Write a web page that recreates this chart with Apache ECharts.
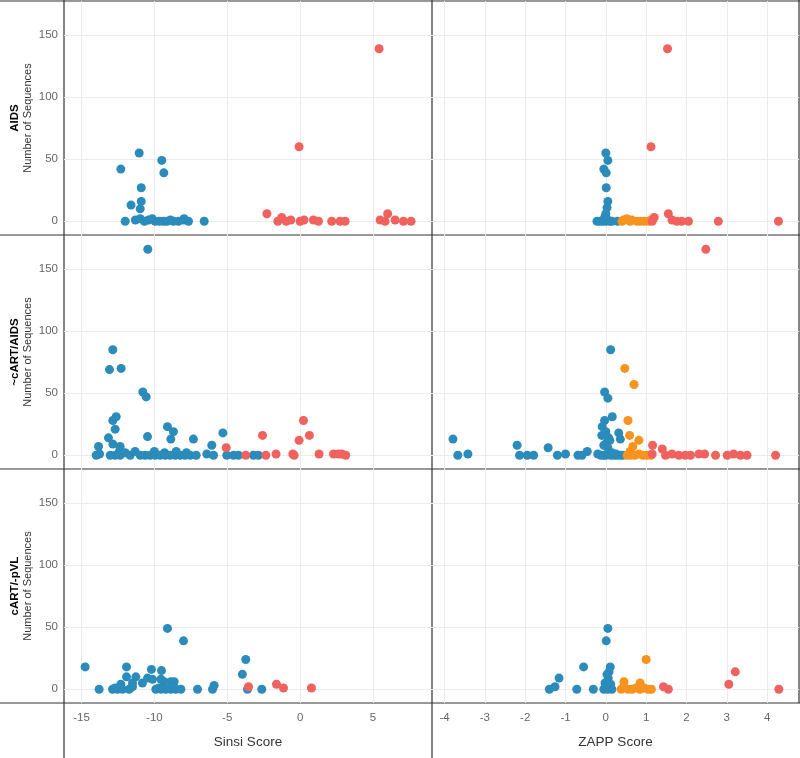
<!DOCTYPE html>
<html><head><meta charset="utf-8">
<script src="https://cdn.jsdelivr.net/npm/echarts@6/dist/echarts.min.js"></script>
<style>html,body{margin:0;padding:0;background:#fff}#c{width:800px;height:758px}</style>
</head><body><div id="c"></div>
<script>
// ---------- labels / ticks ----------
const rowLabels = ['AIDS', '~cART/AIDS', 'cART/-pVL'];
const colTitles = ['Sinsi Score', 'ZAPP Score'];
const yTicks = [0, 50, 100, 150];
const sinsiTicks = [-15, -10, -5, 0, 5];
const zappTicks = [-4, -3, -2, -1, 0, 1, 2, 3, 4];

// ---------- data: [score, number of sequences] ----------
// Row 1: AIDS
const aidsSinsiBlue = [[-12.3,42],[-11.04,55],[-9.49,49],[-9.35,39],[-10.9,27],[-10.9,16],[-11.6,13],[-10.97,10],
  [-12.0,0],[-11.3,1],[-10.97,2],[-10.68,0],[-10.4,1],[-9.95,0],[-10.15,2],[-9.65,0],[-9.37,0],[-9.14,0],[-8.9,1],
  [-8.69,0],[-8.35,0],[-8.0,1],[-7.66,0],[-7.96,2],[-6.58,0]];
const aidsSinsiRed = [[5.42,139],[-0.07,60],[-2.28,6],[-1.53,0],[-1.26,3],[-0.96,0],[-0.64,1],[0,0],[0.27,1],[0.91,1],
  [1.26,0],[2.17,0],[2.74,0],[3.09,0],[5.49,1],[5.83,0],[6.01,6],[6.52,1],[7.09,0],[7.61,0]];
const aidsZappBlue = [[0,55],[0.05,49],[-0.05,42],[0.01,39],[0.01,27],[0.05,16],[0.03,11],[0.0,6],[-0.03,3],
  [-0.22,0],[-0.15,0],[-0.08,0],[0,0],[0.05,1],[0.1,0],[0.15,0],[0.29,0]];
const aidsZappOrange = [[0.40,0],[0.44,1],[0.52,2],[0.6,0],[0.64,1],[0.77,0],[0.85,0],[0.95,0],[1.06,0],[1.12,1]];
const aidsZappRed = [[1.53,139],[1.12,60],[1.2,3],[1.15,0],[1.55,6],[1.64,1],[1.76,0],[1.88,0],[2.05,0],[2.79,0],[4.28,0]];

// Row 2: ~cART/AIDS
const noCartSinsiBlue = [[-10.45,166],[-12.85,85],[-13.08,69],[-12.28,70],[-10.79,51],[-10.56,47],[-12.62,31],[-12.85,28],
  [-12.69,21],[-13.15,14],[-12.85,9],[-13.83,7],[-13.99,0],[-13.76,1],[-10.47,15],[-9.10,23],[-8.69,19],[-8.87,13],
  [-7.32,13],[-5.3,18],[-6.06,8],[-12.35,7],[-12.4,3],
  [-13.03,0],[-12.69,0],[-12.35,0],[-12.0,2],[-11.66,0],[-11.32,3],[-10.97,0],[-10.63,0],[-10.29,0],[-10.0,3],[-9.95,0],
  [-9.6,0],[-9.3,2],[-9.26,0],[-8.92,0],[-8.57,0],[-8.5,3],[-8.23,0],[-7.89,0],[-7.8,2],[-7.54,0],[-7.13,0],[-6.4,1],
  [-5.94,0],[-5.03,0],[-4.57,0],[-4.23,0],[-3.2,0],[-2.86,0]];
const noCartSinsiRed = [[-5.07,6],[-3.73,0],[-2.58,16],[-2.35,0],[-1.65,1],[-0.5,1],[-0.41,0],[-0.07,12],[0.23,28],
  [0.64,16],[1.30,1],[2.29,1],[2.63,1],[2.86,1],[3.13,0]];
const noCartZappBlue = [[0.12,85],[-0.03,51],[0.05,46],[0.16,31],[-0.03,28],[-0.09,23],[0.0,19],[0.07,14],[0.32,18],
  [0.36,13],[-3.79,13],[-3.67,0],[-3.42,1],[-2.2,8],[-2.14,0],[-1.95,0],[-1.79,0],[-1.43,6],[-1.2,0],[-1.0,1],
  [-0.69,0],[-0.59,0],[-0.46,3],[-0.1,16],[0.02,10],[0.1,12],[-0.05,8],[0.05,6],[-0.12,0],[-0.05,0],[0.0,0],
  [0.05,1],[0.12,0],[0.2,0],[0.28,0],[0.36,0],[0.42,0],[-0.2,1],[0.15,2],[0.25,1]];
const noCartZappOrange = [[0.47,70],[0.70,57],[0.55,28],[0.59,16],[0.82,12],[0.67,7],[0.6,3],[0.53,0],[0.62,0],
  [0.72,0],[0.82,1],[0.92,0],[1.02,0],[1.12,0]];
const noCartZappRed = [[2.48,166],[1.16,8],[1.40,5],[1.15,1],[1.48,0],[1.64,1],[1.81,0],[1.97,0],[2.10,0],[2.31,1],
  [2.45,1],[2.72,0],[3.01,0],[3.17,1],[3.34,0],[3.50,0],[4.21,0]];

// Row 3: cART/-pVL
const cartSinsiBlue = [[-9.10,49],[-8.0,39],[-14.75,18],[-11.91,18],[-10.2,16],[-9.51,15],[-11.91,10],[-11.27,10],
  [-10.47,9],[-11.5,5],[-10.82,5],[-12.3,4],[-10.13,8],[-9.55,8],[-9.33,6],[-8.87,6],[-8.64,6],[-3.73,24],[-3.96,12],
  [-5.9,3],[-13.79,0],[-12.87,0],[-12.53,0],[-12.19,0],[-11.73,0],[-9.9,0],[-9.55,0],[-9.21,0],[-8.87,0],[-8.53,0],
  [-8.18,0],[-7.04,0],[-6.01,0],[-3.61,0],[-2.63,0],[-12.7,1],[-11.5,2],[-9.7,1],[-8.7,2]];
const cartSinsiRed = [[-3.54,2],[-1.62,4],[-1.14,1],[0.78,1]];
const cartZappBlue = [[0.05,49],[0.01,39],[-0.55,18],[0.11,18],[0.03,12],[-1.16,9],[0.06,9],[-1.26,2],[-1.40,0],
  [-0.72,0],[-0.31,0],[-0.05,0],[0.0,2],[0.05,0],[0.1,1],[0.15,0],[0.08,14],[-0.02,5],[0.12,4]];
const cartZappOrange = [[1.0,24],[0.45,6],[0.85,5],[0.38,0],[0.45,2],[0.55,0],[0.65,0],[0.75,1],[0.85,0],[0.95,1],
  [1.05,0],[1.13,0]];
const cartZappRed = [[3.21,14],[3.05,4],[1.43,2],[1.55,0],[4.29,0]];

// ---------- styling ----------
const COLORS = { blue: '#2b8bba', orange: '#f7931e', red: '#ef625e' };
const FONT = '"Liberation Sans", Arial, Helvetica, sans-serif';
const L = 64, MID = 432, R = 799;
const ROW_TOP = [1, 235, 469], ROW_H = 234;

const panels = [
  { row: 0, col: 0, series: [['blue', aidsSinsiBlue], ['red', aidsSinsiRed]] },
  { row: 0, col: 1, series: [['blue', aidsZappBlue], ['orange', aidsZappOrange], ['red', aidsZappRed]] },
  { row: 1, col: 0, series: [['blue', noCartSinsiBlue], ['red', noCartSinsiRed]] },
  { row: 1, col: 1, series: [['blue', noCartZappBlue], ['orange', noCartZappOrange], ['red', noCartZappRed]] },
  { row: 2, col: 0, series: [['blue', cartSinsiBlue], ['red', cartSinsiRed]] },
  { row: 2, col: 1, series: [['blue', cartZappBlue], ['orange', cartZappOrange], ['red', cartZappRed]] }
];

const grid = [], xAxis = [], yAxis = [], series = [];
panels.forEach((p, i) => {
  grid.push({ left: p.col === 0 ? L : MID, top: ROW_TOP[p.row], width: p.col === 0 ? MID - L : R - MID, height: ROW_H });
  const bottom = p.row === 2;
  xAxis.push({
    type: 'value', gridIndex: i,
    min: p.col === 0 ? -16.2 : -4.31, max: p.col === 0 ? 9.05 : 4.79,
    axisLine: { show: false }, axisTick: { show: false, customValues: p.col === 0 ? sinsiTicks : zappTicks },
    axisLabel: { show: bottom, customValues: p.col === 0 ? sinsiTicks : zappTicks, color: '#666', fontSize: 11.5, fontFamily: FONT, margin: 9 },
    splitLine: { show: true, lineStyle: { color: '#ececec', width: 1 } },
    name: bottom ? colTitles[p.col] : '', nameLocation: 'middle', nameGap: 32,
    nameTextStyle: { color: '#333', fontSize: 13.5, fontFamily: FONT }
  });
  yAxis.push({
    type: 'value', gridIndex: i, min: -11.1, max: 177.5,
    axisLine: { show: false }, axisTick: { show: false, customValues: yTicks },
    axisLabel: { show: p.col === 0, customValues: yTicks, color: '#666', fontSize: 11.5, fontFamily: FONT, margin: 6 },
    splitLine: { show: true, lineStyle: { color: '#ececec', width: 1 } },
    name: p.col === 0 ? 'Number of Sequences' : '', nameLocation: 'middle', nameGap: 31,
    nameTextStyle: { color: '#333', fontSize: 11, fontFamily: FONT }
  });
  p.series.forEach(([c, d]) => {
    series.push({
      type: 'scatter', xAxisIndex: i, yAxisIndex: i, data: d, symbolSize: 9,
      itemStyle: { color: COLORS[c], opacity: 1 }, silent: true, animation: false
    });
  });
});

const lineStyle = { stroke: '#333', lineWidth: 1.2 };
const graphic = [
  { type: 'line', shape: { x1: 0, y1: 1, x2: 800, y2: 1 }, style: lineStyle },
  { type: 'line', shape: { x1: 0, y1: 235, x2: 800, y2: 235 }, style: lineStyle },
  { type: 'line', shape: { x1: 0, y1: 469, x2: 800, y2: 469 }, style: lineStyle },
  { type: 'line', shape: { x1: 0, y1: 703, x2: 800, y2: 703 }, style: lineStyle },
  { type: 'line', shape: { x1: L, y1: 0, x2: L, y2: 758 }, style: lineStyle },
  { type: 'line', shape: { x1: MID, y1: 0, x2: MID, y2: 758 }, style: lineStyle },
  { type: 'line', shape: { x1: R, y1: 0, x2: R, y2: 703 }, style: lineStyle }
];
rowLabels.forEach((t, r) => {
  graphic.push({
    type: 'text', x: 15, y: ROW_TOP[r] + ROW_H / 2, rotation: Math.PI / 2,
    style: { text: t, fill: '#000', font: 'bold 11.5px ' + FONT, textAlign: 'center', textVerticalAlign: 'middle' }
  });
});

const chart = echarts.init(document.getElementById('c'), null, { renderer: 'canvas' });
chart.setOption({ animation: false, backgroundColor: '#fff', grid, xAxis, yAxis, series, graphic });
</script></body></html>
